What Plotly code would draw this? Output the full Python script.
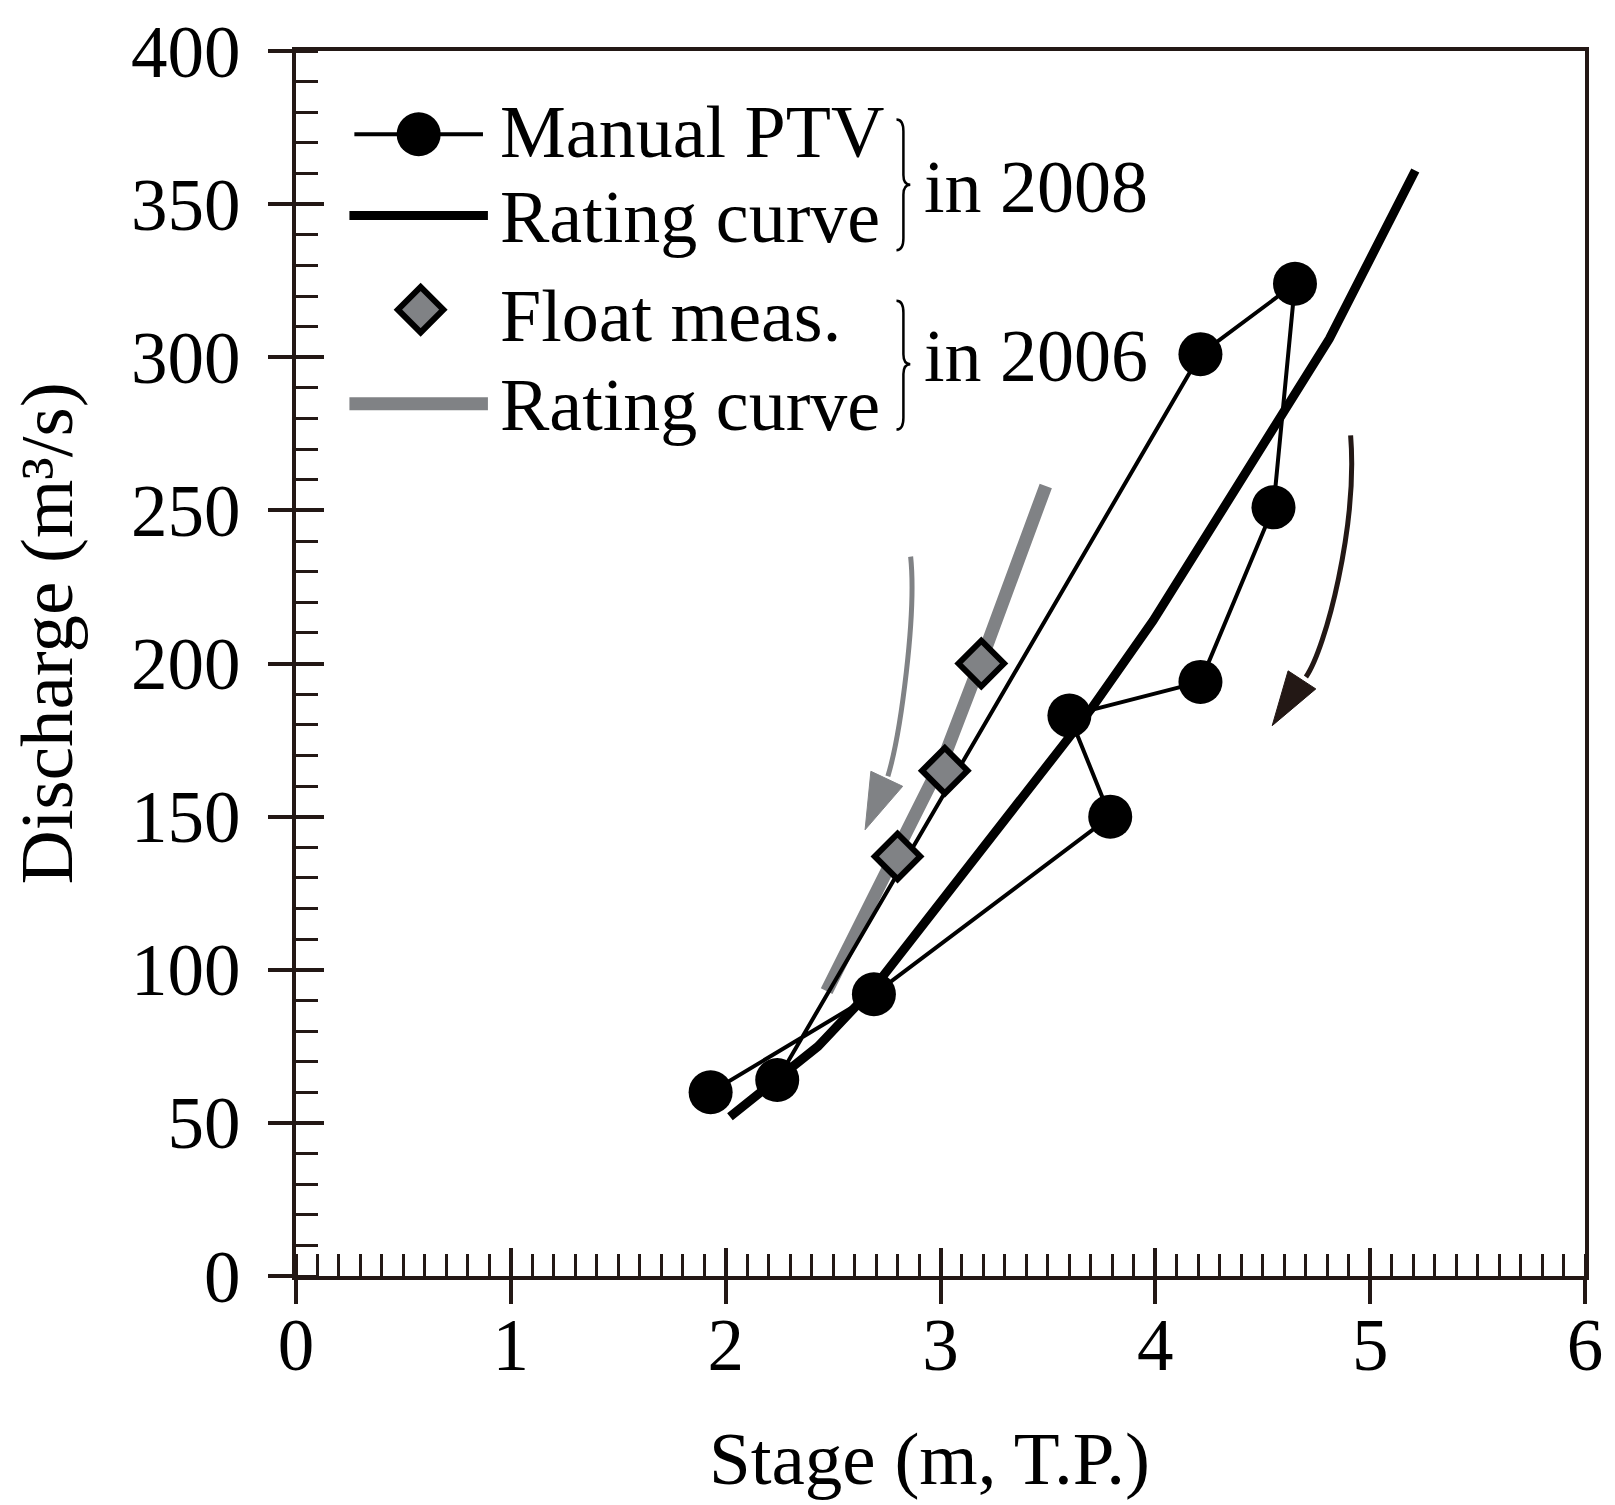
import plotly.graph_objects as go

# ---------------- data ----------------
stage_ptv = [2.24, 4.21, 4.65, 4.55, 4.21, 3.60, 3.79, 2.69, 1.93]
q_ptv = [64, 301, 324, 251, 194, 183, 150, 92, 60]

stage_rc2008 = [2.02, 2.24, 2.43, 2.70, 3.00, 3.35, 3.70, 3.99, 4.40, 4.81, 5.21]
q_rc2008 = [52, 64, 75, 95, 122, 154, 185, 214, 260, 306, 361]

stage_float = [2.80, 3.02, 3.19]
q_float = [137, 165, 200]

stage_rc2006 = [2.47, 2.80, 3.02, 3.19, 3.49]
q_rc2006 = [93, 138, 170, 201, 258]

x_ticks = [0, 1, 2, 3, 4, 5, 6]
y_ticks = [0, 50, 100, 150, 200, 250, 300, 350, 400]

legend_labels = ["Manual PTV", "Rating curve", "Float meas.", "Rating curve"]
group_labels = ["in 2008", "in 2006"]

# decorative direction arrows (data coordinates): start, ctrl1, ctrl2, end, head points
arrow_gray = [(2.861, 234.9), (2.889, 216.1), (2.815, 177.1), (2.755, 163.2)]
arrow_gray_head = [(2.676, 164.8), (2.824, 159.9), (2.649, 145.7)]
arrow_black = [(4.909, 274.5), (4.942, 245.3), (4.794, 205.0), (4.701, 195.6)]
arrow_black_head = [(4.618, 197.6), (4.747, 191.7), (4.544, 179.7)]

# ---------------- styling ----------------
W, H = 1615, 1505
PL, PR, PT, PB = 296, 1599, 40, 1276
FONT = "Liberation Serif"
FS = 74
FS_TICK = 73
FS_TITLE = 75
AX = "#231815"
GRAY = "#808285"


def px(x):
    return (x - PL) / (PR - PL)


def py(y):
    return (PB - y) / (PB - PT)


fig = go.Figure()

# 2006 rating curve (gray, thick)
fig.add_trace(go.Scatter(x=stage_rc2006, y=q_rc2006, mode="lines",
                         line=dict(color=GRAY, width=13), hoverinfo="skip"))
# 2008 rating curve (black, thick)
fig.add_trace(go.Scatter(x=stage_rc2008, y=q_rc2008, mode="lines",
                         line=dict(color="black", width=9), hoverinfo="skip"))
# Manual PTV
fig.add_trace(go.Scatter(x=stage_ptv, y=q_ptv, mode="lines+markers",
                         line=dict(color="black", width=4),
                         marker=dict(symbol="circle", size=44, color="black")))
# Float measurements
fig.add_trace(go.Scatter(x=stage_float, y=q_float, mode="markers",
                         marker=dict(symbol="diamond", size=35, color=GRAY,
                                     line=dict(color="black", width=6))))

# helper traces for cross ticks (overlay axes)
fig.add_trace(go.Scatter(x=[None], y=[None], xaxis="x2", yaxis="y", hoverinfo="skip"))
fig.add_trace(go.Scatter(x=[None], y=[None], xaxis="x", yaxis="y2", hoverinfo="skip"))

# ---------------- legend (custom) ----------------
ly = [py(124), py(206), py(301), py(396)]
fig.add_trace(go.Scatter(x=[px(355), px(485)], y=[ly[0], ly[0]], mode="lines",
                         line=dict(color="black", width=4), xaxis="x3", yaxis="y3",
                         hoverinfo="skip"))
fig.add_trace(go.Scatter(x=[px(420)], y=[ly[0]], mode="markers",
                         marker=dict(symbol="circle", size=44, color="black"),
                         xaxis="x3", yaxis="y3", hoverinfo="skip"))
fig.add_trace(go.Scatter(x=[px(350), px(490)], y=[ly[1], ly[1]], mode="lines",
                         line=dict(color="black", width=9), xaxis="x3", yaxis="y3",
                         hoverinfo="skip"))
fig.add_trace(go.Scatter(x=[px(422)], y=[ly[2]], mode="markers",
                         marker=dict(symbol="diamond", size=35, color=GRAY,
                                     line=dict(color="black", width=6)),
                         xaxis="x3", yaxis="y3", hoverinfo="skip"))
fig.add_trace(go.Scatter(x=[px(350), px(490)], y=[ly[3], ly[3]], mode="lines",
                         line=dict(color=GRAY, width=13), xaxis="x3", yaxis="y3",
                         hoverinfo="skip"))

annotations = []
text_y = [122, 207, 307, 397]
for lab, ty in zip(legend_labels, text_y):
    annotations.append(dict(text=lab, x=px(500), y=py(ty), xref="paper", yref="paper",
                            xanchor="left", yanchor="middle", showarrow=False,
                            font=dict(family=FONT, size=FS, color="black")))
for lab, ty in zip(group_labels, [177, 348]):
    annotations.append(dict(text=lab, x=px(929), y=py(ty), xref="paper", yref="paper",
                            xanchor="left", yanchor="middle", showarrow=False,
                            font=dict(family=FONT, size=FS, color="black")))

# axis titles
annotations.append(dict(text="Stage (m, T.P.)", x=px(936), y=py(1460), xref="paper",
                        yref="paper", xanchor="center", yanchor="middle", showarrow=False,
                        font=dict(family=FONT, size=FS_TITLE, color="black")))
annotations.append(dict(text="Discharge (m³/s)", x=px(44), y=py(628), xref="paper",
                        yref="paper", xanchor="center", yanchor="middle", showarrow=False,
                        textangle=-90, font=dict(family=FONT, size=FS_TITLE, color="black")))


def brace_path(x0, ytop, ybot, ytip):
    xm = x0 + 7
    xt = x0 + 14
    pts = [
        f"M {px(x0)},{py(ytop)}",
        f"Q {px(xm)},{py(ytop)} {px(xm)},{py(ytop + 12)}",
        f"L {px(xm)},{py(ytip - 10)}",
        f"Q {px(xm)},{py(ytip)} {px(xt)},{py(ytip)}",
        f"Q {px(xm)},{py(ytip)} {px(xm)},{py(ytip + 10)}",
        f"L {px(xm)},{py(ybot - 12)}",
        f"Q {px(xm)},{py(ybot)} {px(x0)},{py(ybot)}",
    ]
    return " ".join(pts)


shapes = [
    dict(type="path", xref="paper", yref="paper", path=brace_path(903, 109, 241, 175),
         line=dict(color="black", width=2.5)),
    dict(type="path", xref="paper", yref="paper", path=brace_path(903, 292, 422, 356),
         line=dict(color="black", width=2.5)),
]


def curve(pts):
    (a, b, c, d) = pts
    return f"M {a[0]},{a[1]} C {b[0]},{b[1]} {c[0]},{c[1]} {d[0]},{d[1]}"


def tri(pts):
    return "M " + " L ".join(f"{p[0]},{p[1]}" for p in pts) + " Z"


shapes += [
    dict(type="path", xref="x", yref="y", path=curve(arrow_gray),
         line=dict(color=GRAY, width=5)),
    dict(type="path", xref="x", yref="y", path=tri(arrow_gray_head),
         fillcolor=GRAY, line=dict(color=GRAY, width=1)),
    dict(type="path", xref="x", yref="y", path=curve(arrow_black),
         line=dict(color=AX, width=5)),
    dict(type="path", xref="x", yref="y", path=tri(arrow_black_head),
         fillcolor=AX, line=dict(color=AX, width=1)),
]

tickfont = dict(family=FONT, size=FS_TICK, color="black")

fig.update_layout(
    width=W, height=H,
    margin=dict(l=PL, r=W - PR, t=PT, b=H - PB, pad=0),
    paper_bgcolor="white", plot_bgcolor="white",
    showlegend=False,
    xaxis=dict(range=[0, 6], tickmode="array", tickvals=x_ticks,
               ticks="outside", ticklen=24, tickwidth=4, tickcolor=AX,
               showline=True, linecolor=AX, linewidth=4, mirror=True,
               showgrid=False, zeroline=False, tickfont=tickfont,
               ticklabelstandoff=-22, ticklabeloverflow="allow",
               minor=dict(tickmode="linear", tick0=0, dtick=0.1, ticks="inside",
                          ticklen=22, tickwidth=3, tickcolor=AX, showgrid=False)),
    yaxis=dict(range=[0, 400], tickmode="array", tickvals=y_ticks,
               ticks="outside", ticklen=24, tickwidth=4, tickcolor=AX,
               showline=True, linecolor=AX, linewidth=4, mirror=True,
               showgrid=False, zeroline=False, tickfont=tickfont,
               ticklabelstandoff=13, ticklabeloverflow="allow",
               minor=dict(tickmode="linear", tick0=0, dtick=10, ticks="inside",
                          ticklen=22, tickwidth=3, tickcolor=AX, showgrid=False)),
    xaxis2=dict(overlaying="x", anchor="y", side="bottom", range=[0, 6],
                tickmode="array", tickvals=x_ticks, ticks="inside", ticklen=28,
                tickwidth=4, tickcolor=AX, showticklabels=False, showline=False,
                showgrid=False, zeroline=False),
    yaxis2=dict(overlaying="y", anchor="x", side="left", range=[0, 400],
                tickmode="array", tickvals=y_ticks, ticks="inside", ticklen=28,
                tickwidth=4, tickcolor=AX, showticklabels=False, showline=False,
                showgrid=False, zeroline=False),
    xaxis3=dict(overlaying="x", anchor="y3", range=[0, 1], visible=False),
    yaxis3=dict(overlaying="y", anchor="x3", range=[0, 1], visible=False),
    annotations=annotations,
    shapes=shapes,
)

fig.write_html("out.html", config={"displayModeBar": False},
               post_script="document.body.style.margin='0';")
